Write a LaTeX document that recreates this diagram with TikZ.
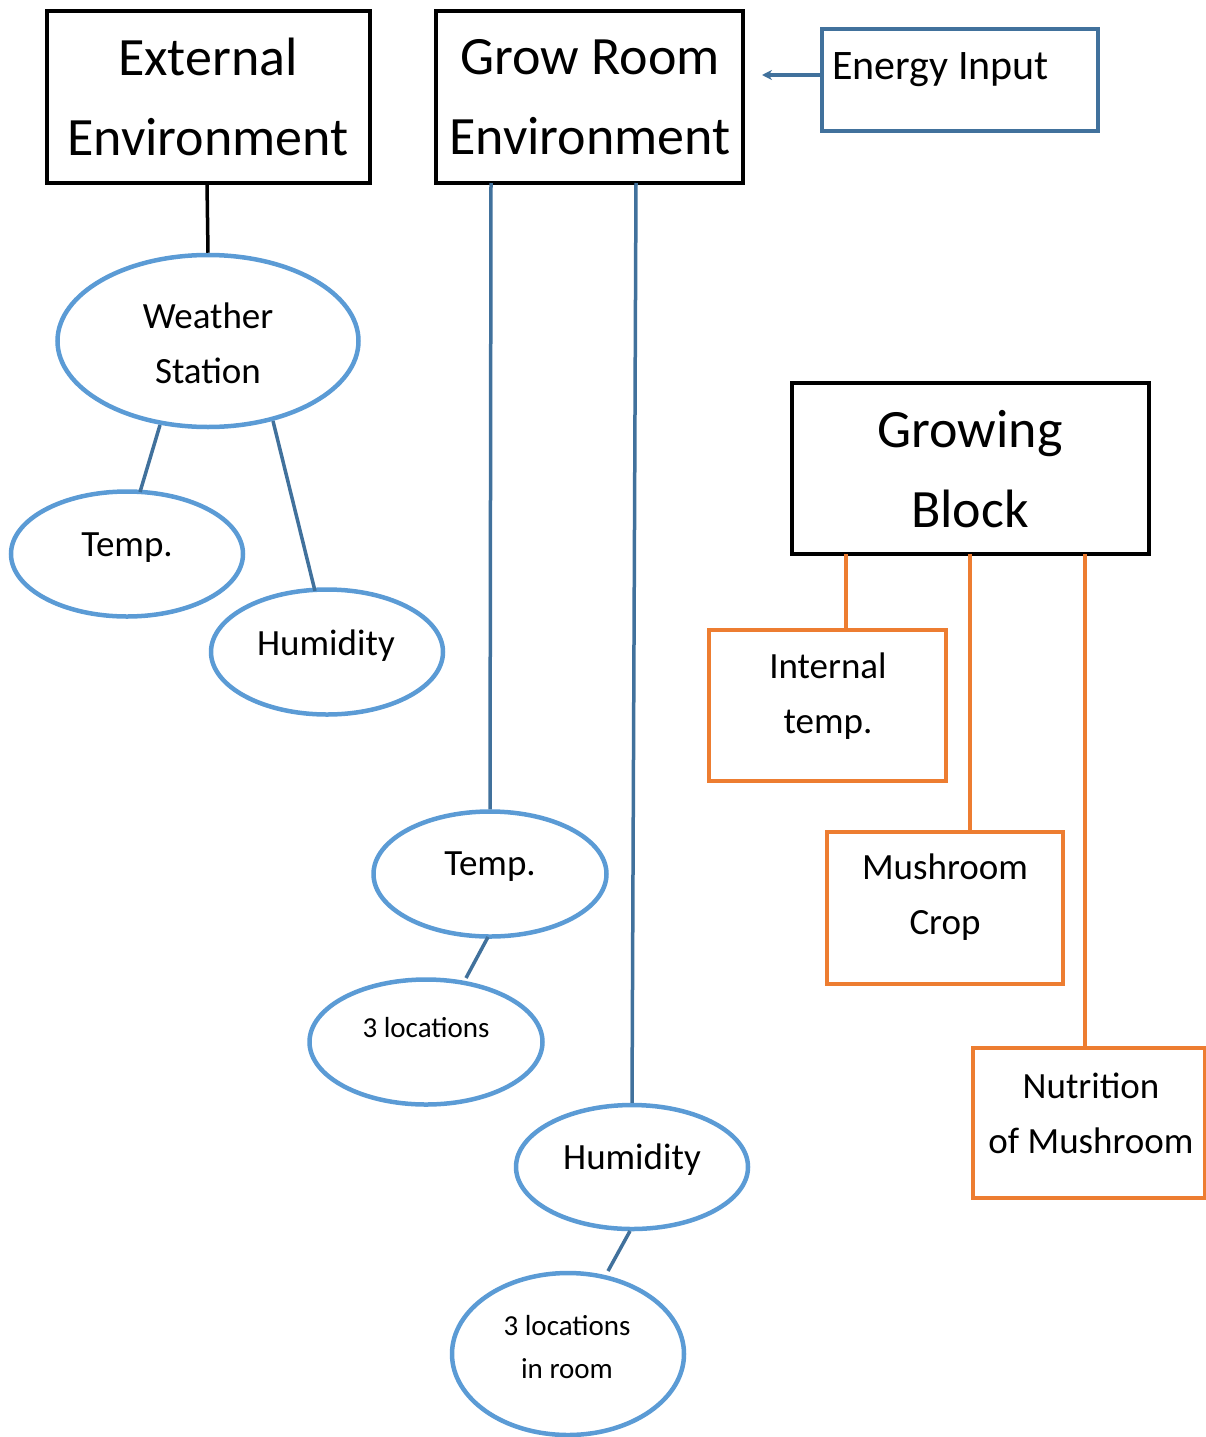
\documentclass[tikz,border=0pt]{standalone}
\usepackage{fontspec}
\setmainfont{Carlito}
\usetikzlibrary{shapes.geometric,arrows.meta}
\definecolor{ellblue}{HTML}{5B9BD5}
\definecolor{linkblue}{HTML}{41719C}
\definecolor{orng}{HTML}{ED7D31}
\tikzset{
  blackbox/.style={draw=black, line width=4.5pt, rectangle, inner sep=0pt},
  orangebox/.style={draw=orng, line width=4.5pt, rectangle, inner sep=0pt},
  bluebox/.style={draw=linkblue, line width=3.5pt, rectangle, inner sep=0pt},
  oval/.style={draw=ellblue, line width=4.5pt, ellipse, inner sep=0pt},
  bigtxt/.style={font=\fontsize{54}{80}\selectfont, align=center, inner sep=0pt},
  midtxt/.style={font=\fontsize{37}{55}\selectfont, align=center, inner sep=0pt},
  smalltxt/.style={font=\fontsize{29}{43}\selectfont, align=center, inner sep=0pt},
  blacklink/.style={draw=black, line width=3.5pt},
  bluelink/.style={draw=linkblue, line width=3.5pt},
  orangelink/.style={draw=orng, line width=4pt},
}
\begin{document}
\begin{tikzpicture}[x=1pt, y=-1pt]
\useasboundingbox (0,0) rectangle (1206,1437);

% top-level boxes
\node[blackbox, minimum width=323pt, minimum height=172pt] (ext) at (208.5,97) {};
\node[bigtxt] at (208,97) {External\\Environment};
\node[blackbox, minimum width=307pt, minimum height=172pt] (grow) at (589.5,97) {};
\node[bigtxt] at (590,97) {Grow Room\\Environment};
\node[bluebox, minimum width=276pt, minimum height=102pt] (energy) at (960,80) {};
\node[font=\fontsize{42}{50}\selectfont, anchor=west, inner sep=0pt] at (832,70) {Energy Input};
\coordinate (energytip) at (762,75);
\draw[bluelink, -{Stealth[length=10pt,width=10pt]}] (energy.west |- energytip) -- (energytip);

% external environment branch
\node[oval, minimum width=301pt, minimum height=172pt] (ws) at (208,341) {};
\node[midtxt] at (208,343) {Weather\\Station};
\node[oval, minimum width=232pt, minimum height=125pt] (t1) at (127,554) {};
\node[midtxt] at (127,548) {Temp.};
\node[oval, minimum width=232pt, minimum height=125pt] (h1) at (327,652) {};
\node[midtxt] at (326,646) {Humidity};
\coordinate (wsa) at (160,425);
\coordinate (t1a) at (140,492);
\coordinate (wsb) at (273,421);
\coordinate (h1a) at (315,591);
\coordinate (extb) at (207,183);
\draw[blacklink] (extb) -- (ws.north);
\draw[bluelink] (wsa) -- (t1a);
\draw[bluelink] (wsb) -- (h1a);

% grow room branch
\node[oval, minimum width=233pt, minimum height=125pt] (t2) at (490,874) {};
\node[midtxt] at (490,867) {Temp.};
\node[oval, minimum width=233pt, minimum height=125pt] (l1) at (426,1042) {};
\node[smalltxt] at (426,1028) {3 locations};
\node[oval, minimum width=232pt, minimum height=124pt] (h2) at (632,1167) {};
\node[midtxt] at (632,1160) {Humidity};
\node[oval, minimum width=232pt, minimum height=162pt] (l2) at (568,1354) {};
\node[smalltxt] at (567,1347) {3 locations\\in room};
\coordinate (g1) at (491,183);
\coordinate (g2) at (636,183);
\coordinate (t2b) at (488,937);
\coordinate (l1a) at (466,978);
\coordinate (h2b) at (630,1231);
\coordinate (l2a) at (608,1271);
\draw[bluelink] (g1) -- (t2.north);
\draw[bluelink] (g2) -- (h2.north);
\draw[bluelink] (t2b) -- (l1a);
\draw[bluelink] (h2b) -- (l2a);

% growing block branch
\node[blackbox, minimum width=357pt, minimum height=171pt] (block) at (970.5,468.5) {};
\node[bigtxt] at (970,469) {Growing\\Block};
\node[orangebox, minimum width=237pt, minimum height=151pt] (it) at (827.5,705.5) {};
\node[midtxt] at (828,696) {Internal\\temp.};
\node[orangebox, minimum width=236pt, minimum height=152pt] (mc) at (945,908) {};
\node[midtxt] at (945,897) {Mushroom\\Crop};
\node[orangebox, minimum width=232pt, minimum height=150pt] (nm) at (1089,1123) {};
\node[midtxt] at (1091,1113) {Nutrition\\of Mushroom};
\coordinate (ob1) at (846,554);
\coordinate (ob2) at (970,554);
\coordinate (ob3) at (1085,554);
\draw[orangelink] (ob1) -- (it.north -| ob1);
\draw[orangelink] (ob2) -- (mc.north -| ob2);
\draw[orangelink] (ob3) -- (nm.north -| ob3);
\end{tikzpicture}
\end{document}
